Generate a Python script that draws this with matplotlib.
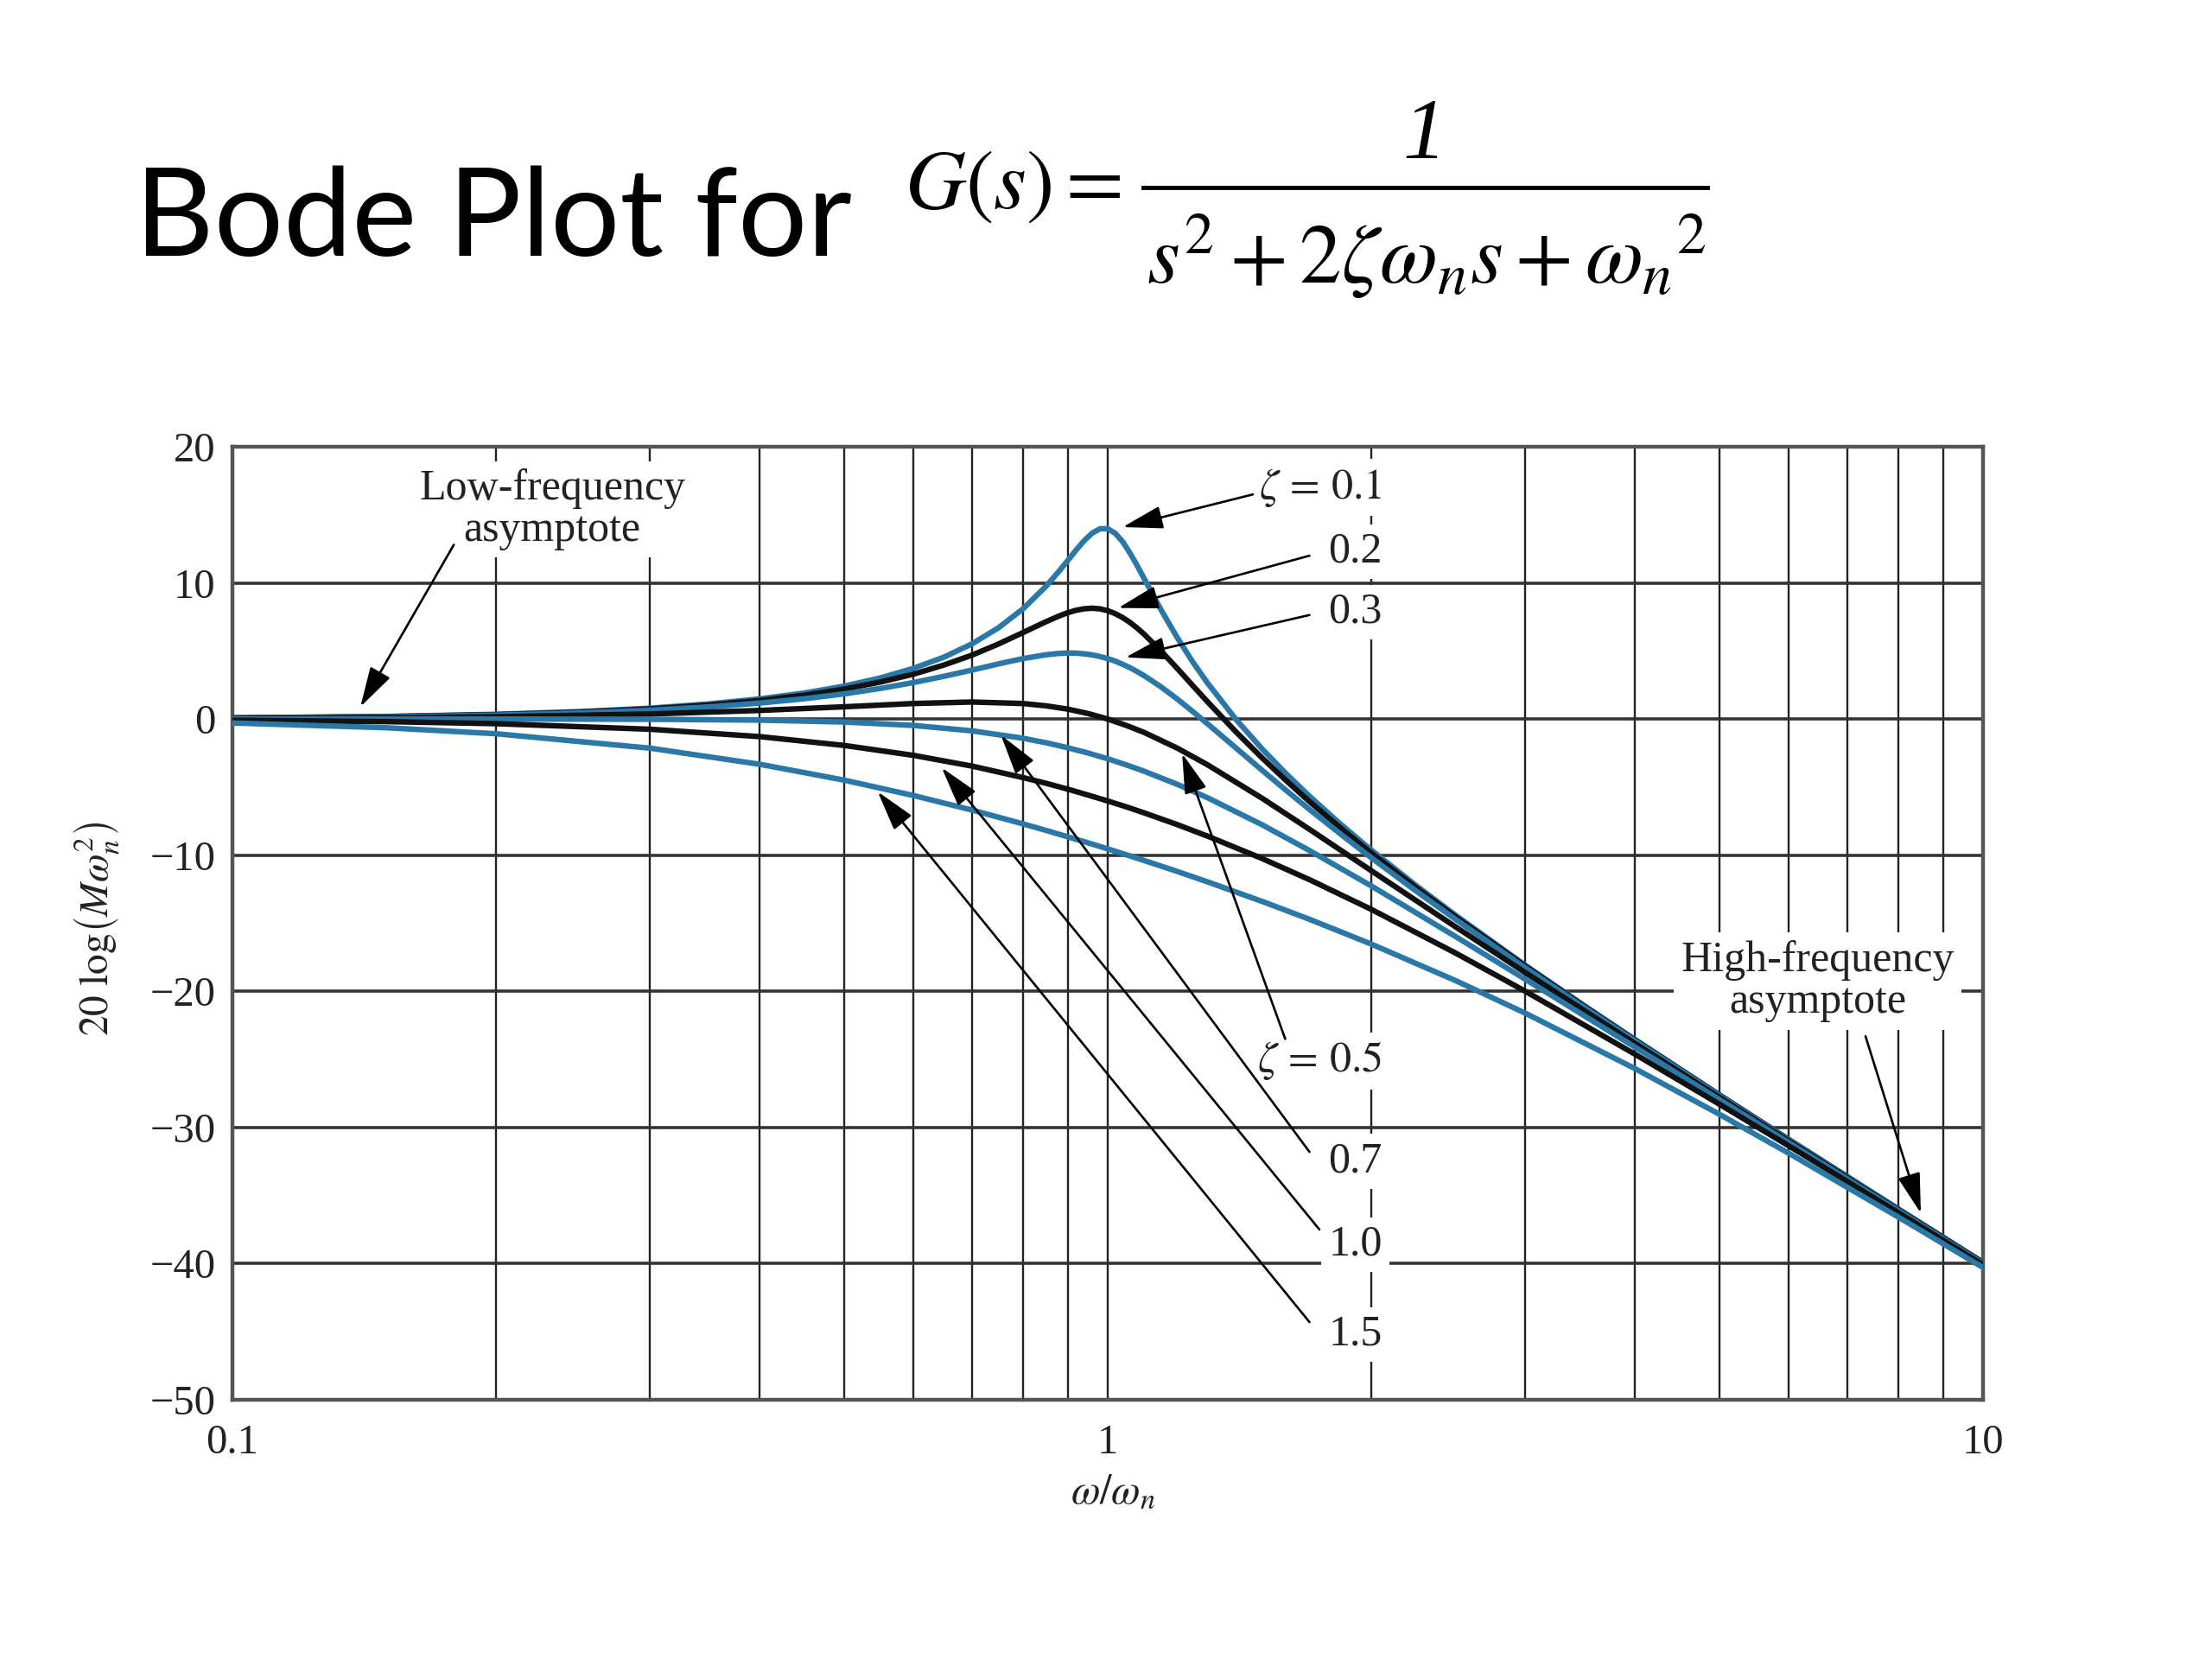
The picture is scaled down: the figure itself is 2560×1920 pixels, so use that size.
import matplotlib
matplotlib.use("Agg")
import matplotlib.pyplot as plt
from matplotlib.lines import Line2D

plt.rcParams['font.family'] = ['Liberation Serif', 'DejaVu Serif']
plt.rcParams['mathtext.fontset'] = 'stix'

# ---- data ----
# sampling for the well-damped curves
freq = [0.1, 0.15, 0.2, 0.3, 0.4, 0.5, 0.6, 0.7, 0.8, 0.85, 0.9, 0.95, 1.0, 1.05,
        1.1, 1.2, 1.3, 1.5, 1.7, 2, 2.5, 3, 4, 5, 6, 8, 10]
# denser sampling for the resonant curves
freq_res = [0.1, 0.15, 0.2, 0.25, 0.3, 0.35, 0.4, 0.45, 0.5, 0.55, 0.6, 0.65, 0.7, 0.75,
            0.8, 0.85, 0.88, 0.9, 0.92, 0.94, 0.96, 0.98, 1.0, 1.02, 1.04, 1.06, 1.08,
            1.1, 1.15, 1.2, 1.25, 1.3, 1.4, 1.5, 1.6, 1.7, 1.85, 2, 2.25, 2.5, 3, 3.5,
            4, 5, 6, 8, 10]

mag_z01 = [0.09, 0.19, 0.35, 0.55, 0.80, 1.11, 1.48, 1.91, 2.42, 3.02, 3.73, 4.55, 5.53,
           6.70, 8.09, 9.75, 10.87, 11.64, 12.41, 13.11, 13.66, 13.98, 13.98, 13.64,
           13.02, 12.20, 11.29, 10.34, 8.04, 6.00, 4.21, 2.65, 0.00, -2.18, -4.04, -5.67,
           -7.79, -9.62, -12.23, -14.44, -18.09, -21.04, -23.53, -27.61, -30.89, -35.99,
           -39.91]
mag_z02 = [0.08, 0.18, 0.32, 0.51, 0.74, 1.03, 1.36, 1.75, 2.20, 2.72, 3.30, 3.97, 4.70,
           5.51, 6.35, 7.15, 7.57, 7.81, 7.99, 8.10, 8.14, 8.09, 7.96, 7.74, 7.45, 7.10,
           6.69, 6.24, 5.01, 3.73, 2.47, 1.27, -0.92, -2.84, -4.54, -6.06, -8.07, -9.84,
           -12.38, -14.56, -18.16, -21.09, -23.57, -27.63, -30.90, -36.00, -39.92]
mag_z03 = [0.07, 0.16, 0.29, 0.45, 0.65, 0.89, 1.17, 1.49, 1.85, 2.25, 2.68, 3.14, 3.60,
           4.05, 4.44, 4.72, 4.82, 4.85, 4.84, 4.79, 4.71, 4.59, 4.44, 4.25, 4.02, 3.77,
           3.49, 3.19, 2.37, 1.48, 0.56, -0.35, -2.11, -3.75, -5.26, -6.64, -8.51, -10.19,
           -12.63, -14.74, -18.28, -21.17, -23.63, -27.67, -30.93, -36.01, -39.93]
mag_z05 = [0.04, 0.10, 0.17, 0.37, 0.63, 0.90, 1.14, 1.25, 1.14, 0.97, 0.73, 0.40, 0.00,
           -0.47, -0.98, -2.13, -3.36, -5.81, -8.10, -11.14, -15.29, -18.63, -23.82,
           -27.79, -31.01, -36.06, -39.96]
mag_z07 = [0.00, 0.00, 0.00, -0.02, -0.08, -0.22, -0.47, -0.87, -1.41, -1.74, -2.11, -2.50,
           -2.92, -3.37, -3.83, -4.79, -5.78, -7.76, -9.66, -12.26, -16.00, -19.12, -24.09,
           -27.96, -31.12, -36.12, -40.00]
mag_z10 = [-0.09, -0.19, -0.34, -0.75, -1.29, -1.94, -2.67, -3.46, -4.30, -4.72, -5.15,
           -5.59, -6.02, -6.45, -6.89, -7.75, -8.60, -10.24, -11.80, -13.98, -17.21, -20.00,
           -24.61, -28.30, -31.36, -36.26, -40.09]
mag_z15 = [-0.29, -0.64, -1.08, -2.14, -3.32, -4.49, -5.62, -6.69, -7.70, -8.18, -8.65,
           -9.10, -9.54, -9.97, -10.39, -11.19, -11.96, -13.39, -14.71, -16.53, -19.23,
           -21.61, -25.67, -29.04, -31.90, -36.58, -40.29]

x_ticks = [0.1, 1, 10]
x_ticklabels = ['0.1', '1', '10']
x_minor = [0.2, 0.3, 0.4, 0.5, 0.6, 0.7, 0.8, 0.9, 2, 3, 4, 5, 6, 7, 8, 9]
y_ticks = [-50, -40, -30, -20, -10, 0, 10, 20]
y_ticklabels = ['\u221250', '\u221240', '\u221230', '\u221220', '\u221210', '0', '10', '20']

BLUE = '#2a78a8'
BLACK = '#111111'

fig = plt.figure(figsize=(25.6, 19.2), dpi=100)
ax = fig.add_axes([0.1051, 0.1563, 0.7914, 0.5744])
ax.set_xscale('log')
ax.set_xlim(0.1, 10)
ax.set_ylim(-50, 20)

ax.set_xticks(x_ticks)
ax.set_xticklabels(x_ticklabels)
ax.set_xticks(x_minor, minor=True)
ax.set_xticklabels([], minor=True)
ax.set_yticks(y_ticks)
ax.set_yticklabels(y_ticklabels)
ax.tick_params(which='both', length=0, labelsize=35, colors='#222222')
ax.tick_params(axis='x', pad=20)
ax.tick_params(axis='y', pad=14)
ax.grid(True, which='both', axis='x', color='#222222', lw=1.7, zorder=0)
ax.grid(True, which='major', axis='y', color='#333333', lw=2.6, zorder=0)
ax.set_axisbelow(True)
for sp in ax.spines.values():
    sp.set_color('#555555')
    sp.set_linewidth(3.2)

lw = 4.6
ax.plot(freq_res, mag_z01, color=BLUE, lw=lw, zorder=3, solid_joinstyle='round')
ax.plot(freq_res, mag_z02, color=BLACK, lw=lw, zorder=3, solid_joinstyle='round')
ax.plot(freq_res, mag_z03, color=BLUE, lw=lw, zorder=3, solid_joinstyle='round')
ax.plot(freq, mag_z05, color=BLACK, lw=lw, zorder=3, solid_joinstyle='round')
ax.plot(freq, mag_z07, color=BLUE, lw=lw, zorder=3, solid_joinstyle='round')
ax.plot(freq, mag_z10, color=BLACK, lw=lw, zorder=3, solid_joinstyle='round')
ax.plot(freq, mag_z15, color=BLUE, lw=lw, zorder=3, solid_joinstyle='round')

box = dict(facecolor='white', edgecolor='none', pad=6)
fs = 36
arrow = dict(arrowstyle='-|>,head_length=1.2,head_width=0.34', mutation_scale=24,
             lw=1.9, color='black', shrinkA=0, shrinkB=0)

ax.text(0.232, 15.4, 'Low-frequency\nasymptote', ha='center', va='center',
        fontsize=fs, linespacing=1.02, bbox=box, zorder=4, color='#222222')
ax.annotate('', xy=(0.140, 0.9), xytext=(0.179, 12.8), arrowprops=arrow, zorder=5)

ax.text(6.47, -19.25, 'High-frequency\nasymptote', ha='center', va='center',
        fontsize=fs, linespacing=1.05, bbox=box, zorder=4, color='#222222')
ax.annotate('', xy=(8.49, -36.3), xytext=(7.34, -23.3), arrowprops=arrow, zorder=5)

xr = 2.06
labels = [(r'$\zeta\,=\,0.1$', 17.0, (1.465, 16.5), (1.04, 14.1)),
          ('0.2', 12.3, (1.70, 12.0), (1.028, 8.16)),
          ('0.3', 7.85, (1.70, 7.64), (1.048, 4.53)),
          (r'$\zeta\,=\,0.5$', -25.1, (1.595, -23.5), (1.216, -2.53)),
          ('0.7', -32.5, (1.70, -31.8), (0.755, -1.18)),
          ('1.0', -38.6, (1.745, -37.5), (0.646, -3.57)),
          ('1.5', -45.2, (1.70, -44.3), (0.546, -5.34))]
for txt, yv, tail, head in labels:
    ax.text(xr, yv, txt, ha='right', va='center', fontsize=fs, bbox=box, zorder=4,
            color='#222222')
    ax.annotate('', xy=head, xytext=tail, arrowprops=arrow, zorder=5)

# axis labels
fig.text(0.503, 0.1005, r'$\omega/\omega_n$', ha='center', va='center', fontsize=35,
         color='#222222')
fig.text(0.0438, 0.44, r'$20\ \mathrm{log}\left(M\omega_n^2\right)$', ha='center',
         va='center', rotation=90, fontsize=34, color='#222222')

# title
fig.text(0.061, 0.846, 'Bode Plot for', fontfamily='Lato', fontsize=102,
         va='baseline', ha='left', color='black')
fig.text(0.409, 0.887, r'$G(s) =$', ha='left', va='center', fontsize=70)
fig.add_artist(Line2D([0.5168, 0.7719], [0.887, 0.887], transform=fig.transFigure,
                      lw=3.5, color='black'))
fig.text(0.644, 0.917, '1', ha='center', va='center', fontsize=72, fontstyle='italic',
         fontfamily='Liberation Serif')
fig.text(0.645, 0.829, r'$s^{2}+2\zeta\omega_{n}s+\omega_{n}{}^{2}$', ha='center',
         va='baseline', fontsize=70)

fig.savefig('out.png', dpi=100)
